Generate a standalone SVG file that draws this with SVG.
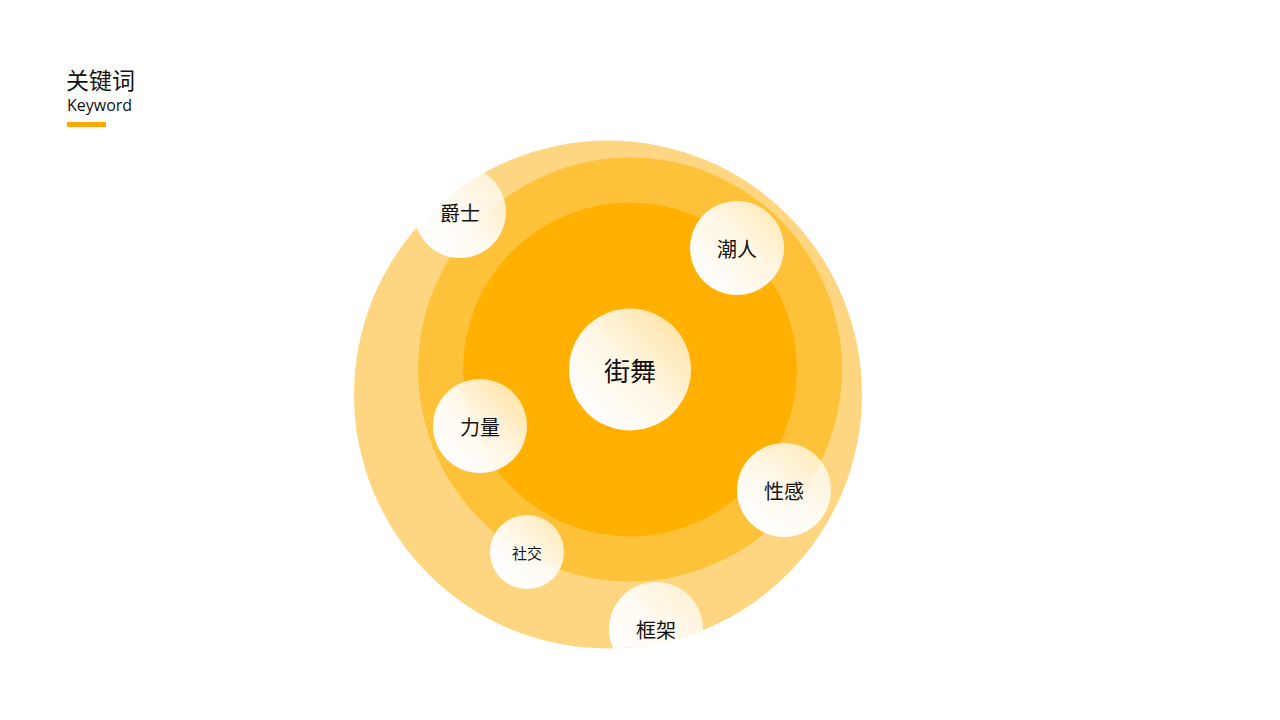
<svg xmlns="http://www.w3.org/2000/svg" width="1280" height="720" viewBox="0 0 1280 720">
<defs>
<linearGradient id="bub" x1="0.15" y1="0.85" x2="0.85" y2="0.15">
<stop offset="0" stop-color="#FFFFFF" stop-opacity="1"/>
<stop offset="0.5" stop-color="#FFFFFF" stop-opacity="0.9"/>
<stop offset="1" stop-color="#FFFFFF" stop-opacity="0.68"/>
</linearGradient>
<clipPath id="outerClip"><circle cx="608" cy="394.5" r="254"/></clipPath>
<style>
.bubble{fill:url(#bub);}
.lbl{font-family:"Noto Sans CJK SC","Microsoft YaHei",sans-serif;fill:#111;text-anchor:middle;dominant-baseline:central;}
</style>
</defs>
<rect width="1280" height="720" fill="#FFFFFF"/>
<g id="title">
<text x="66" y="89" font-family="'Noto Sans CJK SC',sans-serif" font-size="23" fill="#111">关键词</text>
<text x="67" y="111" font-family="'Open Sans','Noto Sans',sans-serif" font-size="16" fill="#111">Keyword</text>
<rect x="67" y="122" width="39" height="5" fill="#FFA800"/>
</g>
<g id="rings">
<circle cx="608" cy="394.5" r="254" fill="#FED681"/>
<circle cx="630" cy="369.5" r="212" fill="#FEC23A"/>
<circle cx="630" cy="369.5" r="167" fill="#FFB000"/>
</g>
<g id="connectors"></g>
<g id="node-jiewu"><circle class="bubble" cx="630" cy="369.5" r="61"/><text class="lbl" x="630" y="369.5" font-size="26">街舞</text></g>
<g id="node-jueshi"><circle class="bubble" cx="460" cy="212" r="46"/><text class="lbl" x="460" y="212" font-size="20">爵士</text></g>
<g id="node-chaoren"><circle class="bubble" cx="737" cy="248" r="47"/><text class="lbl" x="737" y="248" font-size="20">潮人</text></g>
<g id="node-liliang"><circle class="bubble" cx="480" cy="426" r="47"/><text class="lbl" x="480" y="426" font-size="20">力量</text></g>
<g id="node-xinggan"><circle class="bubble" cx="784" cy="490" r="47"/><text class="lbl" x="784" y="490" font-size="20">性感</text></g>
<g id="node-shejiao"><circle class="bubble" cx="527" cy="552" r="37"/><text class="lbl" x="527" y="552" font-size="15">社交</text></g>
<g id="node-kuangjia"><circle class="bubble" cx="656" cy="629" r="47" clip-path="url(#outerClip)"/><text class="lbl" x="656" y="629" font-size="20">框架</text></g>
</svg>
